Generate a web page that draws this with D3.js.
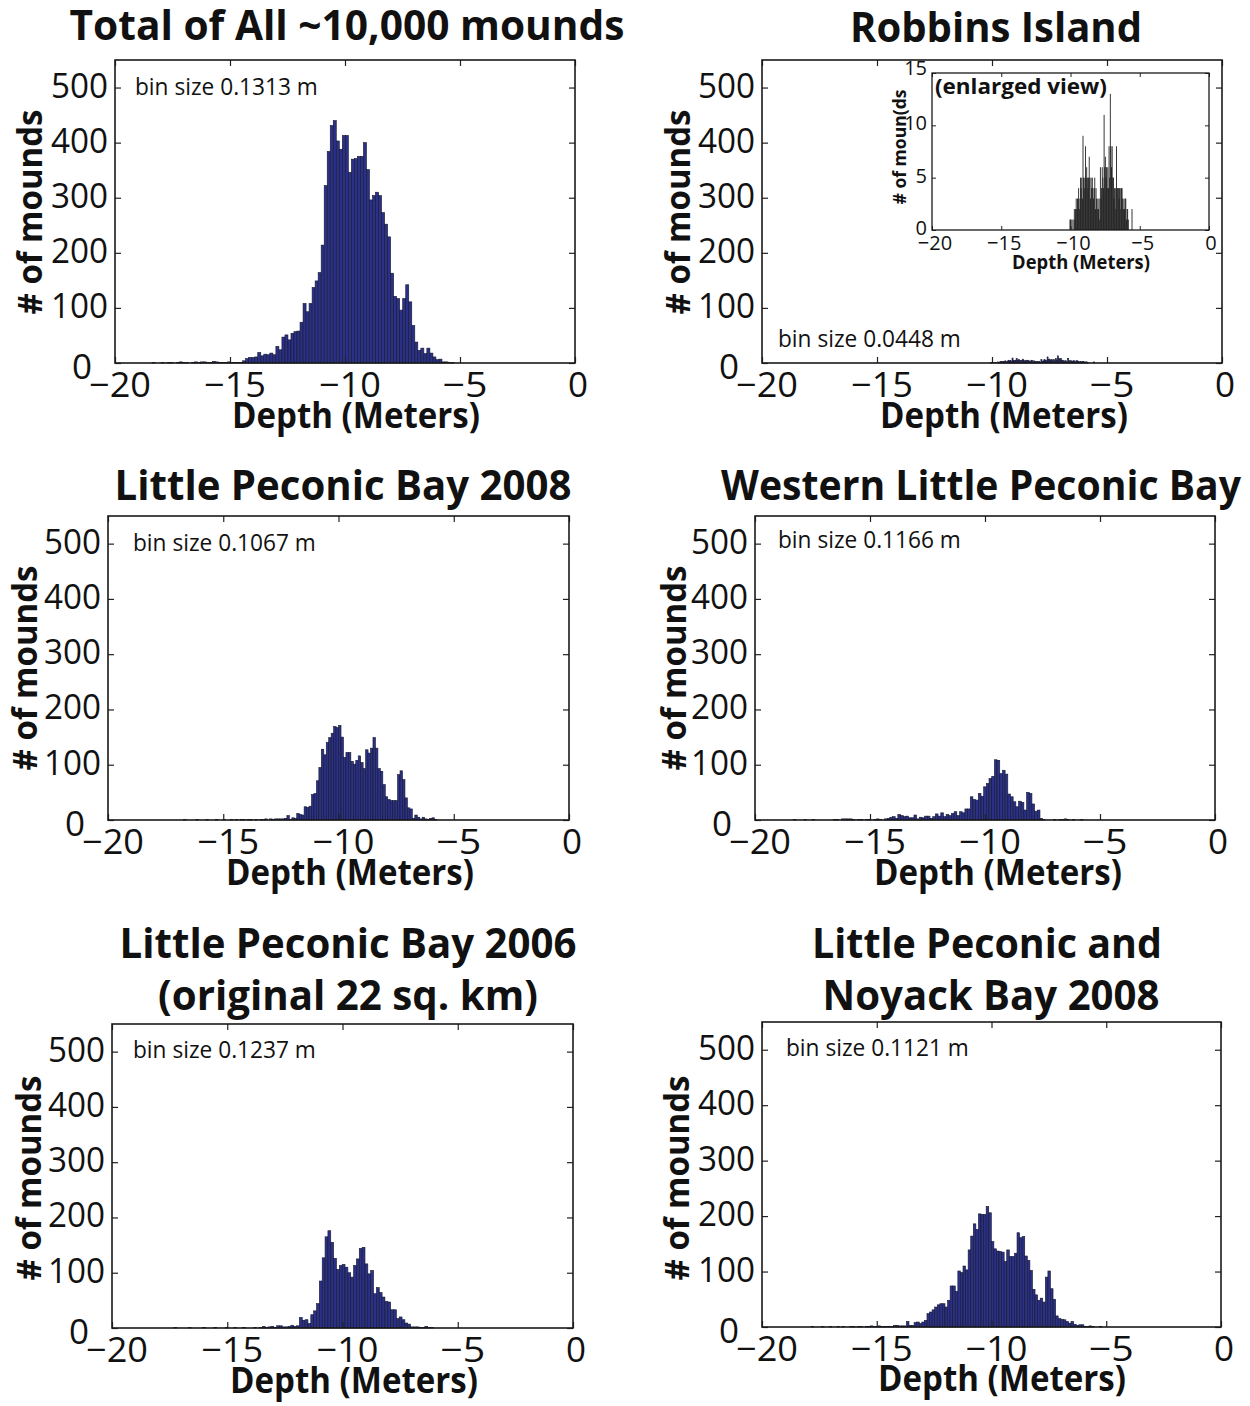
<!DOCTYPE html>
<html>
<head>
<meta charset="utf-8">
<script src="https://cdn.jsdelivr.net/npm/d3@7"></script>
<style>
  html, body { margin: 0; padding: 0; background: #fff; }
  svg { display: block; }
  text { font-family: "Open Sans", "Noto Sans", sans-serif; fill: #111; }
</style>
</head>
<body>
<svg id="fig" width="1250" height="1406"></svg>
<script>
// ---- Depth histograms of mounds (counts per depth bin, depth in metres) ----

const depthTicks = [-20, -15, -10, -5, 0];
const countTicks = [0, 100, 200, 300, 400, 500];
const insetCountTicks = [0, 5, 10, 15];

// Total of all ~10,000 mounds (bin 0.1313 m)
const totalStart = -18.52;
const totalBin = 0.1313;
const totalCounts = [0,1,0,0,1,0,1,1,0,1,2,1,1,0,1,2,1,
  2,2,1,1,3,2,1,1,1,2,1,1,1,1,4,8,10,10,11,19,13,16,15,18,15,30,24,47,51,42,54,57,58,74,
  108,93,108,137,149,164,214,322,384,431,440,403,388,413,413,346,370,371,375,375,400,351,
  296,304,310,304,273,252,229,163,121,117,96,117,142,111,68,38,23,27,17,27,18,11,6,7,2,2,1,1];

// Robbins Island (bin 0.0448 m)
const robbinsStart = -10.07;
const robbinsBin = 0.0448;
const robbinsCounts = [1,1,0,1,0,1,0,2,1,2,3,2,3,3,4,2,3,5,4,5,3,9,5,4,5,8,5,6,5,4,5,7,5,3,
  5,4,5,4,3,4,5,2,4,3,2,3,2,3,1,6,3,4,6,5,4,11,6,7,5,6,4,6,4,8,5,13,8,6,8,5,5,3,4,4,2,
  8,4,4,4,3,4,4,2,4,4,3,2,3,2,3,3,1,2,2,1,0,0,0,0,0,2,0];

// Little Peconic Bay 2008 (bin 0.1067 m)
const lpb2008Start = -17.04;
const lpb2008Bin = 0.1067;
const lpb2008Counts = [0,0,0,1,0,0,0,0,1,0,0,0,1,0,0,0,1,0,0,1,0,0,1,0,1,0,1,1,0,1,
  1,0,1,0,1,1,2,0,2,1,2,2,2,2,3,8,1,4,3,12,10,9,24,23,25,46,48,71,95,128,118,140,149,157,
  169,167,171,150,113,122,122,106,101,108,116,104,93,127,121,130,149,130,93,88,64,42,37,
  35,35,35,82,89,73,40,22,20,3,9,5,2,5,2,1,3,4,1,0];

// Western Little Peconic Bay (bin 0.1166 m)
const westernStart = -18.57;
const westernBin = 0.1166;
const westernCounts = [0,0,1,0,0,0,1,0,0,1,0,0,
  0,0,0,0,0,1,1,0,2,2,2,2,1,0,1,1,0,1,1,0,1,2,1,0,2,3,5,6,3,10,8,6,7,4,4,9,2,5,4,7,7,3,
  6,11,7,13,6,10,8,12,15,8,15,13,20,20,42,37,36,48,43,60,66,75,79,109,108,84,90,83,47,42,
  33,24,34,32,18,50,48,29,16,18,3,1,0,0,0,1,0,1,1,2,1,0,1,0,0,1];

// Little Peconic Bay 2006, original 22 sq. km (bin 0.1237 m)
const lpb2006Start = -17.56;
const lpb2006Bin = 0.1237;
const lpb2006Counts = [0,0,1,0,0,0,0,1,0,0,0,0,1,0,0,0,1,0,0,0,1,0,0,1,0,0,1,0,
  0,0,1,0,1,3,1,2,3,1,4,4,2,2,3,5,3,4,19,14,15,8,24,31,44,85,127,165,176,155,126,106,113,
  115,110,100,92,113,125,144,146,116,98,104,62,73,64,56,48,47,33,33,17,20,15,9,7,2,2,2,
  1,1,3,1,1,0];

// Little Peconic and Noyack Bay 2008 (bin 0.1121 m)
const noyackStart = -18.08;
const noyackBin = 0.1121;
const noyackCounts = [0,0,1,0,0,0,1,0,0,1,0,0,1,0,1,0,0,1,1,0,1,1,0,1,1,2,1,1,2,1,
  1,1,1,1,3,3,2,2,2,10,3,3,8,9,6,9,12,24,27,31,36,40,42,42,36,48,74,74,64,101,98,110,103,
  139,164,186,176,204,203,203,217,206,154,141,137,136,135,118,139,127,127,133,170,161,163,
  128,120,102,68,58,48,52,45,90,101,69,50,20,15,14,13,10,7,10,5,3,4,4,1,1,2,1,0,0,1];

const BAR_FILL = "#2b3188";
const BAR_EDGE = "#15172a";
const svg = d3.select("#fig");

// Place a text at (x, y), optionally rotated, squeezed horizontally to a target width
// (the condensed look of the figure's typeface).
function placeText(g, { x, y, text, size, weight = 400, anchor = "start", width = null, rotate = 0 }) {
  const t = g.append("text")
    .attr("text-anchor", anchor)
    .attr("font-size", size)
    .attr("font-weight", weight)
    .text(text);
  let k = 1;
  if (width) {
    const natural = t.node().getComputedTextLength();
    k = natural > 0 ? width / natural : 1;
  }
  t.attr("transform", `translate(${x},${y})` + (rotate ? ` rotate(${rotate})` : "") + ` scale(${k},1)`);
  return t;
}

function minusFmt(d) { return d < 0 ? "\u2212" + Math.abs(d) : String(d); }

function drawHistogram(p) {
  const g = svg.append("g");
  const x = d3.scaleLinear().domain([-20, 0]).range([p.left, p.right]);
  const y = d3.scaleLinear().domain([0, 550]).range([p.bottom, p.top]);

  // bars
  const bins = p.counts.map((c, i) => ({ x0: p.start + i * p.bin, x1: p.start + (i + 1) * p.bin, c }))
    .filter(b => b.c > 0);
  g.append("g").selectAll("rect").data(bins).join("rect")
    .attr("x", b => x(b.x0))
    .attr("width", b => Math.max(0.5, x(b.x1) - x(b.x0)))
    .attr("y", b => y(b.c))
    .attr("height", b => y(0) - y(b.c))
    .attr("fill", BAR_FILL)
    .attr("stroke", BAR_EDGE)
    .attr("stroke-width", 0.6);

  // inward ticks on all four sides
  const tk = 6;
  const axes = [
    [d3.axisBottom(x).tickValues(depthTicks), `translate(0,${p.bottom})`],
    [d3.axisTop(x).tickValues(depthTicks), `translate(0,${p.top})`],
    [d3.axisLeft(y).tickValues(countTicks), `translate(${p.left},0)`],
    [d3.axisRight(y).tickValues(countTicks), `translate(${p.right},0)`]
  ];
  axes.forEach(([ax, tr]) => {
    const a = g.append("g").attr("transform", tr)
      .call(ax.tickSize(-tk).tickFormat(""));
    a.select(".domain").remove();
    a.selectAll("line").attr("stroke", "#222").attr("stroke-width", 1.2);
  });
  g.append("rect")
    .attr("x", p.left).attr("y", p.top)
    .attr("width", p.right - p.left).attr("height", p.bottom - p.top)
    .attr("fill", "none").attr("stroke", "#1a1a1a").attr("stroke-width", 1.6);

  // tick labels
  depthTicks.forEach(d => placeText(g, {
    x: x(d) + (d < 0 ? 5 : 3), y: p.bottom + 34, text: minusFmt(d),
    size: 35, anchor: "middle", width: d < 0 ? (d <= -10 ? 62 : 45) : null }));
  countTicks.filter(d => d > 0).forEach(d => placeText(g, {
    x: p.left - 7, y: y(d) + 10, text: String(d), size: 35, anchor: "end", width: 57 }));
  placeText(g, { x: p.left - 23, y: p.bottom + 16, text: "0", size: 35, anchor: "end" });

  // titles
  p.title.forEach(t => placeText(g, {
    x: t.cx, y: t.y, text: t.text, size: 41, weight: 700, anchor: "middle", width: t.w }));

  // axis labels
  placeText(g, { x: p.xlab.cx, y: p.xlab.y, text: "Depth (Meters)", size: 36, weight: 700,
    anchor: "middle", width: 248 });
  placeText(g, { x: p.ylab.x, y: p.ylab.cy, text: "# of mounds", size: 34, weight: 700,
    anchor: "middle", width: 205, rotate: -90 });

  placeText(g, { x: p.binLabel.x, y: p.binLabel.y, text: p.binText, size: 23, width: 183 });
  return { x, y };
}

const panels = [
  { left: 115, right: 575, top: 60, bottom: 363,
    start: totalStart, bin: totalBin, counts: totalCounts,
    title: [{ text: "Total of All ~10,000 mounds", cx: 347, y: 40, w: 555 }],
    xlab: { cx: 356, y: 428 }, ylab: { x: 42, cy: 212 },
    binLabel: { x: 135, y: 95 }, binText: "bin size 0.1313 m" },
  { left: 762, right: 1222, top: 60, bottom: 363,
    start: robbinsStart, bin: robbinsBin, counts: robbinsCounts,
    title: [{ text: "Robbins Island", cx: 996, y: 42, w: 292 }],
    xlab: { cx: 1004, y: 428 }, ylab: { x: 690, cy: 212 },
    binLabel: { x: 778, y: 347 }, binText: "bin size 0.0448 m" },
  { left: 108, right: 569, top: 516, bottom: 820,
    start: lpb2008Start, bin: lpb2008Bin, counts: lpb2008Counts,
    title: [{ text: "Little Peconic Bay 2008", cx: 343, y: 500, w: 457 }],
    xlab: { cx: 350, y: 885 }, ylab: { x: 37, cy: 668 },
    binLabel: { x: 133, y: 551 }, binText: "bin size 0.1067 m" },
  { left: 755, right: 1215, top: 516, bottom: 820,
    start: westernStart, bin: westernBin, counts: westernCounts,
    title: [{ text: "Western Little Peconic Bay", cx: 981, y: 500, w: 520 }],
    xlab: { cx: 998, y: 885 }, ylab: { x: 686, cy: 668 },
    binLabel: { x: 778, y: 548 }, binText: "bin size 0.1166 m" },
  { left: 112, right: 573, top: 1024, bottom: 1328,
    start: lpb2006Start, bin: lpb2006Bin, counts: lpb2006Counts,
    title: [{ text: "Little Peconic Bay 2006", cx: 348, y: 958, w: 457 },
            { text: "(original 22 sq. km)", cx: 348, y: 1010, w: 380 }],
    xlab: { cx: 354, y: 1393 }, ylab: { x: 41, cy: 1178 },
    binLabel: { x: 133, y: 1058 }, binText: "bin size 0.1237 m" },
  { left: 762, right: 1221, top: 1022, bottom: 1327,
    start: noyackStart, bin: noyackBin, counts: noyackCounts,
    title: [{ text: "Little Peconic and", cx: 987, y: 958, w: 350 },
            { text: "Noyack Bay 2008", cx: 991, y: 1010, w: 337 }],
    xlab: { cx: 1002, y: 1391 }, ylab: { x: 689, cy: 1178 },
    binLabel: { x: 786, y: 1056 }, binText: "bin size 0.1121 m" }
];

panels.forEach(drawHistogram);

// ---- Enlarged view of the Robbins Island histogram ----
(function drawInset() {
  const box = { left: 932, right: 1209, top: 73, bottom: 230 };
  const g = svg.append("g");
  const x = d3.scaleLinear().domain([-20, 0]).range([box.left, box.right]);
  const y = d3.scaleLinear().domain([0, 15]).range([box.bottom, box.top]);
  g.append("rect").attr("x", box.left).attr("y", box.top)
    .attr("width", box.right - box.left).attr("height", box.bottom - box.top)
    .attr("fill", "#fff");

  const bins = robbinsCounts.map((c, i) => ({ x0: robbinsStart + i * robbinsBin, x1: robbinsStart + (i + 1) * robbinsBin, c }))
    .filter(b => b.c > 0);
  g.append("g").selectAll("rect").data(bins).join("rect")
    .attr("x", b => x(b.x0))
    .attr("width", b => x(b.x1) - x(b.x0) + 0.25)
    .attr("y", b => y(b.c))
    .attr("height", b => y(0) - y(b.c))
    .attr("fill", "#1b1b1b");

  const tk = 4;
  [[d3.axisBottom(x).tickValues(depthTicks), `translate(0,${box.bottom})`],
   [d3.axisTop(x).tickValues(depthTicks), `translate(0,${box.top})`],
   [d3.axisLeft(y).tickValues(insetCountTicks), `translate(${box.left},0)`],
   [d3.axisRight(y).tickValues(insetCountTicks), `translate(${box.right},0)`]
  ].forEach(([ax, tr]) => {
    const a = g.append("g").attr("transform", tr).call(ax.tickSize(-tk).tickFormat(""));
    a.select(".domain").remove();
    a.selectAll("line").attr("stroke", "#222").attr("stroke-width", 1);
  });
  g.append("rect").attr("x", box.left).attr("y", box.top)
    .attr("width", box.right - box.left).attr("height", box.bottom - box.top)
    .attr("fill", "none").attr("stroke", "#1a1a1a").attr("stroke-width", 1.3);

  depthTicks.forEach(d => placeText(g, {
    x: x(d) + (d < 0 ? 3 : 2), y: box.bottom + 20, text: minusFmt(d), size: 20, anchor: "middle" }));
  insetCountTicks.forEach(d => placeText(g, {
    x: box.left - 5, y: d === 15 ? y(d) + 2 : y(d) + 5, text: String(d), size: 20, anchor: "end" }));
  placeText(g, { x: 1081, y: 269, text: "Depth (Meters)", size: 19, weight: 700,
    anchor: "middle", width: 138 });
  placeText(g, { x: 906, y: 147, text: "# of moun(ds", size: 18, weight: 700,
    anchor: "middle", width: 115, rotate: -90 });
  placeText(g, { x: 935, y: 94, text: "(enlarged view)", size: 22, weight: 700, width: 172 });
})();
</script>
</body>
</html>
